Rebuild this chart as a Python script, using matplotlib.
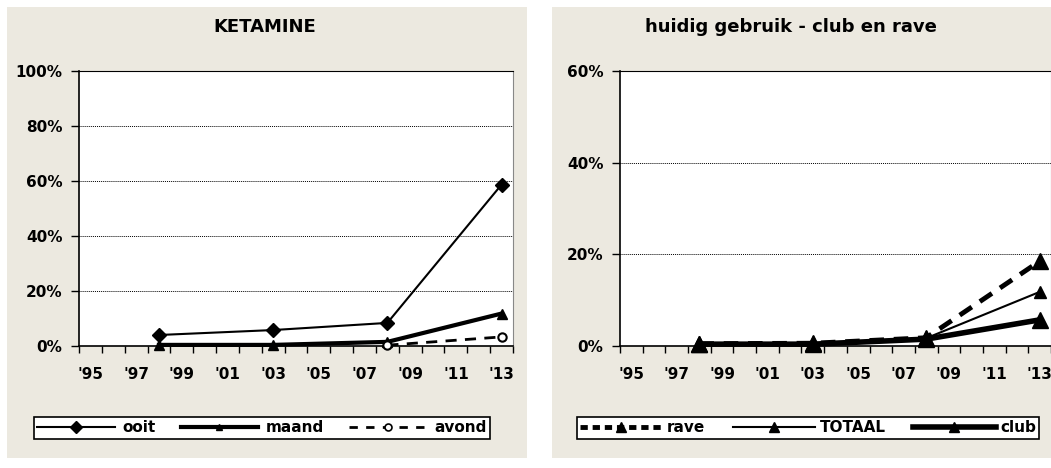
import matplotlib.pyplot as plt
from matplotlib.lines import Line2D
from matplotlib.patches import Rectangle
from matplotlib.ticker import FixedLocator, FuncFormatter

# data (percent)
years = [1998, 2003, 2008, 2013]
ooit = [4.0, 5.8, 8.4, 58.7]
maand = [0.4, 0.4, 1.5, 11.8]
avond_years = [2008, 2013]
avond = [0.3, 3.3]

rave = [0.5, 0.6, 1.8, 18.5]
totaal = [0.5, 0.5, 1.7, 11.8]
club = [0.4, 0.4, 1.5, 5.7]

tick_years = list(range(1995, 2014, 2))
tick_labels = ["'%02d" % (y % 100) for y in tick_years]

plt.rcParams['font.family'] = ['DejaVu Sans']
plt.rcParams['font.weight'] = 'bold'

W, H = 1051, 468
fig = plt.figure(figsize=(W / 100, H / 100), dpi=100)
bg = '#ECE9E0'

# panel backgrounds
fig.patches.append(Rectangle((7 / W, 1 - 458 / H), 520 / W, 451 / H,
                             transform=fig.transFigure, facecolor=bg, edgecolor='none', zorder=-5))
fig.patches.append(Rectangle((552 / W, 1 - 458 / H), 499 / W, 451 / H,
                             transform=fig.transFigure, facecolor=bg, edgecolor='none', zorder=-5))


def style_axes(ax, ymax, ystep):
    ax.set_facecolor('white')
    ax.set_xlim(1994.5, 2013.5)
    ax.set_ylim(0, ymax)
    ax.xaxis.set_major_locator(FixedLocator(tick_years))
    ax.set_xticklabels(tick_labels)
    ax.xaxis.set_minor_locator(FixedLocator([y + 0.5 for y in range(1994, 2014)]))
    ax.tick_params(axis='x', which='major', length=0, pad=15, labelsize=11)
    ax.tick_params(axis='x', which='minor', length=5, width=1, direction='out')
    ax.set_yticks(range(0, ymax + 1, ystep))
    ax.yaxis.set_major_formatter(FuncFormatter(lambda v, p: '%d%%' % v))
    ax.tick_params(axis='y', length=6, width=1, pad=6, labelsize=11)
    for y in range(ystep, ymax + 1, ystep):
        ax.axhline(y, color='black', lw=0.7, ls=(0, (1, 1)), zorder=1)
    ax.spines['left'].set_linewidth(1.2)
    ax.spines['bottom'].set_linewidth(1.2)
    ax.spines['top'].set_linewidth(0.8)
    ax.spines['right'].set_color('#888888')
    ax.spines['right'].set_linewidth(0.8)
    for lab in ax.get_xticklabels() + ax.get_yticklabels():
        lab.set_fontweight('bold')


# left chart
ax1 = fig.add_axes([79 / W, 1 - 346 / H, 434 / W, 275 / H])
style_axes(ax1, 100, 20)
ax1.plot(years, ooit, color='black', lw=1.5, marker='D', ms=7, zorder=4, clip_on=False)
ax1.plot(years, maand, color='black', lw=3, marker='^', ms=7, zorder=3, clip_on=False)
ax1.plot(avond_years, avond, color='black', lw=2, ls=(0, (4, 3)), marker='o', ms=6,
         mfc='white', mec='black', mew=1.5, zorder=5, clip_on=False)
fig.text(265 / W, 1 - 27 / H, 'KETAMINE', ha='center', va='center', fontsize=13, fontweight='bold')

h1 = [Line2D([], [], color='black', lw=1.5, marker='D', ms=6),
      Line2D([], [], color='black', lw=3, marker='^', ms=4.5),
      Line2D([], [], color='black', lw=2, ls=(0, (3, 3)), marker='o', ms=5, mfc='white', mew=1.2)]
leg1 = ax1.legend(h1, ['ooit', 'maand', 'avond'], loc='center', ncol=3,
                  bbox_to_anchor=(262 / W, 1 - 428 / H), bbox_transform=fig.transFigure,
                  frameon=True, fancybox=False, edgecolor='black', framealpha=1,
                  prop={'weight': 'bold', 'size': 11}, handlelength=5.1, handletextpad=0.5,
                  columnspacing=1.6, borderpad=0.2)
leg1.get_frame().set_linewidth(1.2)

# right chart
ax2 = fig.add_axes([620 / W, 1 - 346 / H, 431 / W, 275 / H])
style_axes(ax2, 60, 20)
ax2.plot(years, rave, color='black', lw=3.5, ls=(0, (3, 2)), marker='^', ms=12, zorder=3, clip_on=False)
ax2.plot(years, totaal, color='black', lw=1.5, marker='^', ms=8, zorder=4, clip_on=False)
ax2.plot(years, club, color='black', lw=4, marker='^', ms=12, zorder=5, clip_on=False)
fig.text(791 / W, 1 - 27 / H, 'huidig gebruik - club en rave', ha='center', va='center',
         fontsize=13, fontweight='bold')

h2 = [Line2D([], [], color='black', lw=3.5, ls=(0, (1.5, 1)), marker='^', ms=7),
      Line2D([], [], color='black', lw=1.5, marker='^', ms=7),
      Line2D([], [], color='black', lw=4, marker='^', ms=7)]
leg2 = ax2.legend(h2, ['rave', 'TOTAAL', 'club'], loc='center', ncol=3,
                  bbox_to_anchor=(808 / W, 1 - 428 / H), bbox_transform=fig.transFigure,
                  frameon=True, fancybox=False, edgecolor='black', framealpha=1,
                  prop={'weight': 'bold', 'size': 11}, handlelength=5.4, handletextpad=0.3,
                  columnspacing=1.8, borderpad=0.2)
leg2.get_frame().set_linewidth(1.2)

fig.savefig('out.png', dpi=100, facecolor='white')
